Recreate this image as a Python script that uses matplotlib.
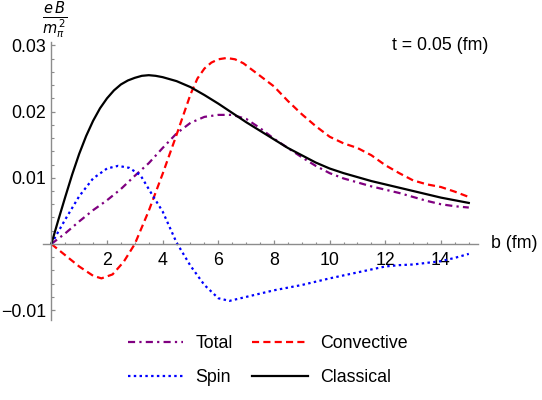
import matplotlib
matplotlib.use("Agg")
import matplotlib.pyplot as plt
from matplotlib.ticker import FixedLocator, FixedFormatter, MultipleLocator

# ---------------- data ----------------
b_classical = [0, 0.25, 0.5, 0.75, 1.0, 1.25, 1.5, 1.75, 2.0, 2.25, 2.5, 2.75, 3.0,
               3.25, 3.5, 3.75, 4.0, 4.5, 5.0, 5.5, 6.0, 6.5, 7.0, 7.5, 8.0, 8.5,
               9.0, 9.5, 10, 10.5, 11, 11.5, 12, 12.5, 13, 13.5, 14, 14.5, 15]
classical = [0, 0.0036, 0.0071, 0.0105, 0.0136, 0.0163, 0.0186, 0.0205, 0.0220,
             0.0232, 0.0241, 0.0247, 0.0251, 0.0254, 0.0255, 0.0254, 0.0252,
             0.0246, 0.0237, 0.0225, 0.0212, 0.0198, 0.0184, 0.0171, 0.0158,
             0.0145, 0.0134, 0.0123, 0.0114, 0.0107, 0.0101, 0.0095, 0.0090,
             0.0085, 0.0080, 0.0075, 0.0070, 0.0066, 0.0062]

b_total = [0, 0.5, 1.0, 1.5, 2.0, 2.5, 3.0, 3.5, 4.0, 4.5, 5.0, 5.5, 6.0, 6.5, 7.0,
           7.5, 8.0, 8.5, 9.0, 9.5, 10, 10.5, 11, 11.5, 12, 12.5, 13, 13.5, 14,
           14.5, 15]
total = [0, 0.0016, 0.0034, 0.0051, 0.0066, 0.0083, 0.0103, 0.0122, 0.0145,
         0.0167, 0.0183, 0.0192, 0.0195, 0.0195, 0.0189, 0.0175, 0.0159, 0.0145,
         0.0131, 0.0118, 0.0107, 0.0099, 0.0093, 0.0087, 0.0082, 0.0077, 0.0071,
         0.0065, 0.0060, 0.0057, 0.0055]

b_conv = [0, 0.5, 1.0, 1.5, 1.8, 2.2, 2.6, 3.0, 3.5, 4.0, 4.5, 5.0, 5.25, 5.5,
          5.75, 6.0, 6.3, 6.6, 6.9, 7.5, 8.0, 8.5, 9.0, 9.5, 10.0, 10.5, 11.0,
          11.5, 12.0, 12.5, 13.0, 13.5, 14.0, 14.5, 15.0]
convective = [0, -0.0017, -0.0034, -0.0048, -0.0052, -0.0046, -0.0027, 0.0,
              0.0050, 0.0106, 0.0165, 0.0226, 0.0250, 0.0265, 0.0274, 0.0279,
              0.0281, 0.0279, 0.0273, 0.0254, 0.0238, 0.0216, 0.0196, 0.0178,
              0.0162, 0.0152, 0.0145, 0.0134, 0.0119, 0.0107, 0.0096, 0.0090,
              0.0086, 0.0079, 0.0071]

b_spin = [0, 0.5, 1.0, 1.5, 2.0, 2.4, 2.8, 3.2, 3.6, 4.0, 4.5, 5.0, 5.5, 6.0, 6.4,
          7.0, 7.5, 8.0, 9.0, 10.0, 11.0, 12.0, 12.5, 13.0, 14.0, 14.5, 15.0]
spin = [0, 0.0037, 0.0072, 0.0099, 0.0114, 0.0118, 0.0115, 0.0104, 0.0076,
        0.0049, 0.0002, -0.0033, -0.0062, -0.0082, -0.0086, -0.0080, -0.0075,
        -0.0070, -0.0062, -0.0052, -0.0043, -0.0034, -0.0032, -0.0031, -0.0026,
        -0.0021, -0.0015]

x_ticks = [2, 4, 6, 8, 10, 12, 14]
x_tick_labels = ["2", "4", "6", "8", "10", "12", "14"]
y_ticks = [-0.01, 0.01, 0.02, 0.03]
y_tick_labels = ["\u22120.01", "0.01", "0.02", "0.03"]

# ---------------- figure ----------------
plt.rcParams['font.family'] = ['Liberation Sans', 'DejaVu Sans']
FS = 12.8
fig = plt.figure(figsize=(5.42, 4.0), dpi=100)
ax = fig.add_axes([0.0793, 0.1998, 0.8026, 0.695])

lw = 1.6
l_tot, = ax.plot(b_total, total, color='#800080', lw=lw, dashes=(3.2, 1.9, 1.0, 1.9), label='Total')
l_conv, = ax.plot(b_conv, convective, color='#ff0000', lw=lw, dashes=(3.2, 1.9), label='Convective')
l_spin, = ax.plot(b_spin, spin, color='#0000ff', lw=lw, dashes=(1.1, 1.5), label='Spin')
l_cls, = ax.plot(b_classical, classical, color='black', lw=lw, label='Classical')

ax.set_xlim(-0.3, 15.33)
ax.set_ylim(-0.0115, 0.0305)

axis_col = '#8c8c8c'
for s in ['top', 'right']:
    ax.spines[s].set_visible(False)
ax.spines['left'].set_position(('data', 0))
ax.spines['bottom'].set_position(('data', 0))
for s in ['left', 'bottom']:
    ax.spines[s].set_color(axis_col)
    ax.spines[s].set_linewidth(1.0)

ax.xaxis.set_major_locator(FixedLocator(x_ticks))
ax.xaxis.set_major_formatter(FixedFormatter(x_tick_labels))
ax.xaxis.set_minor_locator(MultipleLocator(0.5))
ax.yaxis.set_major_locator(FixedLocator(y_ticks))
ax.yaxis.set_major_formatter(FixedFormatter(y_tick_labels))
ax.yaxis.set_minor_locator(MultipleLocator(0.002))

ax.tick_params(which='both', direction='in', color=axis_col, labelsize=FS, labelcolor='black')
ax.tick_params(which='major', length=3.2, width=0.9)
ax.tick_params(which='minor', length=1.8, width=0.8)
ax.tick_params(axis='x', pad=6)
ax.tick_params(axis='y', pad=4)

# axis labels
fig.text(55 / 542, 1 - 20 / 400, r'$\frac{e\,B}{m_\pi^{\,2}}$', fontsize=15,
         ha='center', va='center')
fig.text(491 / 542, 1 - 243 / 400, 'b (fm)', fontsize=FS, ha='left', va='center')
fig.text(392 / 542, 1 - 45 / 400, 't = 0.05 (fm)', fontsize=FS, ha='left', va='center')

# legend filled row-wise: (Total, Convective) / (Spin, Classical)
fig.legend([l_tot, l_spin, l_conv, l_cls], ['Total', 'Spin', 'Convective', 'Classical'],
           loc='center', bbox_to_anchor=(0.494, 0.099), ncol=2, frameon=False,
           fontsize=FS, handlelength=3.1, handletextpad=0.7, columnspacing=1.1,
           labelspacing=0.95)

fig.savefig('out.png', dpi=100)
